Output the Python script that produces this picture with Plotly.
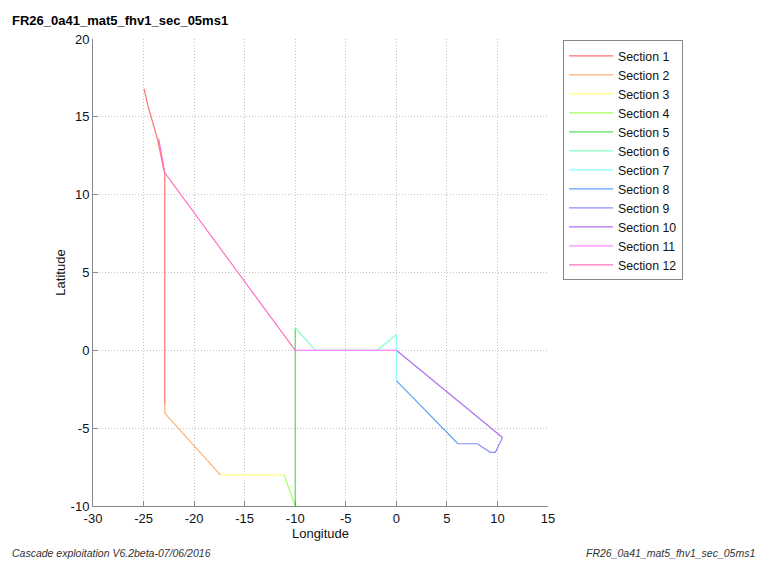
import plotly.graph_objects as go

# Track of each section (longitude, latitude)
section_names = ["Section %d" % i for i in range(1, 13)]
section_lon = [
    [-24.95, -24.6, -23.6, -22.9, -22.9],
    [-22.9, -22.9, -17.4],
    [-17.4, -11.1],
    [-11.1, -10.0],
    [-10.0, -10.0],
    [-10.0, -8.0, -1.9, 0.0],
    [0.0, 0.0],
    [0.0, 6.1],
    [6.1, 8.0, 9.3, 9.8, 10.5],
    [10.5, 0.0],
    [0.0, -10.0],
    [-10.0, -22.9, -23.5],
]
section_lat = [
    [16.8, 15.8, 13.5, 11.3, -3.5],
    [-3.5, -4.05, -8.0],
    [-8.0, -8.0],
    [-8.0, -10.0],
    [-10.0, 1.45],
    [1.45, 0.0, 0.0, 1.0],
    [1.0, -1.95],
    [-1.95, -6.0],
    [-6.0, -6.0, -6.55, -6.55, -5.6],
    [-5.6, 0.0],
    [0.0, 0.0],
    [0.0, 11.4, 13.6],
]
section_colors = [
    "#ff7070", "#ffb070", "#ffff80", "#a8ff5a", "#55e055", "#88ffc4",
    "#88ffff", "#5ba6f2", "#8c8cff", "#ad70f2", "#ff88ff", "#ff70c0",
]

x_ticks = [-30, -25, -20, -15, -10, -5, 0, 5, 10, 15]
y_ticks = [-10, -5, 0, 5, 10, 15, 20]

fig = go.Figure()
for name, lon, lat, col in zip(section_names, section_lon, section_lat, section_colors):
    fig.add_trace(go.Scatter(x=lon, y=lat, mode="lines", name=name,
                             line=dict(color=col, width=1.2)))

axis_common = dict(
    showgrid=True, gridcolor="#c4c4c4", griddash="1px,2px", gridwidth=1,
    zeroline=False, showline=True, linecolor="#8a8a8a", linewidth=1,
    ticks="inside", ticklen=5, tickcolor="#8a8a8a",
    tickfont=dict(family="Arial, Liberation Sans", size=13, color="#111"),
    mirror=False,
)

fig.update_layout(
    width=761, height=562,
    paper_bgcolor="white", plot_bgcolor="white",
    margin=dict(l=93, r=213, t=39, b=56),
    font=dict(family="Arial, Liberation Sans", color="#111"),
    title=dict(text="<b>FR26_0a41_mat5_fhv1_sec_05ms1</b>", x=12 / 761, xanchor="left",
               y=1 - 20 / 562, yanchor="middle", font=dict(size=13, color="#000")),
    xaxis=dict(range=[-30, 15], tickvals=x_ticks, ticktext=[str(v) for v in x_ticks],
               title=dict(text="Longitude", font=dict(size=13), standoff=4), **axis_common),
    yaxis=dict(range=[-10, 20], tickvals=y_ticks, ticktext=[str(v) for v in y_ticks],
               title=dict(text="Latitude", font=dict(size=13), standoff=2), **axis_common),
    legend=dict(x=1.033, y=0.997, xanchor="left", yanchor="top",
                bordercolor="#888", borderwidth=1, bgcolor="white",
                font=dict(family="Arial, Liberation Sans", size=12.3, color="#111"),
                tracegroupgap=0, itemwidth=44),
    showlegend=True,
)

fig.add_annotation(text="<i>Cascade exploitation V6.2beta-07/06/2016</i>",
                   xref="paper", yref="paper", x=-83 / 455, y=-47 / 467,
                   xanchor="left", yanchor="middle", showarrow=False,
                   font=dict(size=10.5, color="#333"))
fig.add_annotation(text="<i>FR26_0a41_mat5_fhv1_sec_05ms1</i>",
                   xref="paper", yref="paper", x=(757 - 93) / 455, y=-47 / 467,
                   xanchor="right", yanchor="middle", showarrow=False,
                   font=dict(size=10.5, color="#333"))

fig.write_html("out.html")
